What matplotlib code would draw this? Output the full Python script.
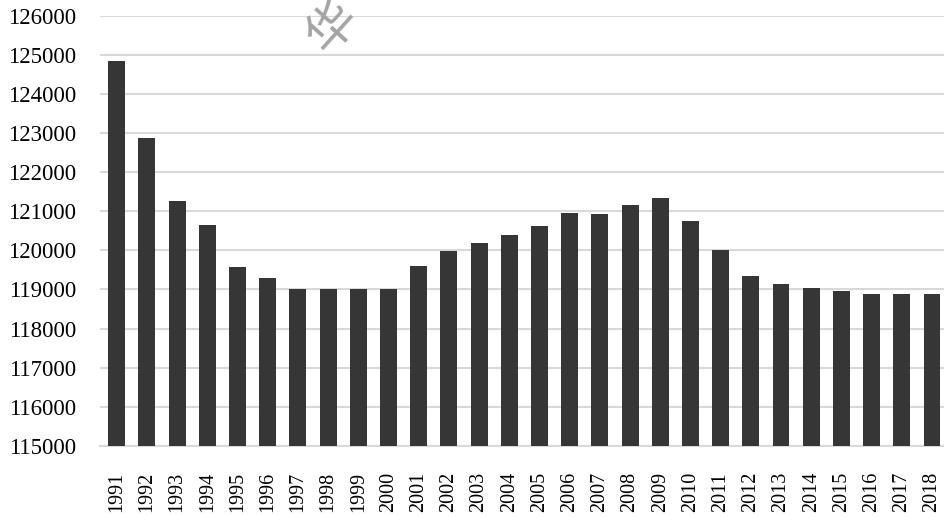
import matplotlib.pyplot as plt
import numpy as np

plt.rcParams['font.family'] = ['Liberation Serif', 'Noto Sans CJK SC', 'DejaVu Sans']

# 年份和数值
years = [str(y) for y in range(1991, 2019)]
values = [124850, 122890, 121265, 120660, 119570, 119300, 119000, 119000,
          119000, 119000, 119610, 119990, 120200, 120390, 120620, 120970,
          120930, 121150, 121350, 120750, 120000, 119350, 119150, 119040,
          118970, 118880, 118880, 118880]
yticks = list(range(115000, 126001, 1000))

fig = plt.figure(figsize=(9.45, 5.17), dpi=100)
ax = fig.add_axes([100/945, 0.1379, 1 - 100/945, 0.969 - 0.1379])

x = np.arange(len(years))
ax.bar(x, values, width=0.56, color='#363636', zorder=3)

ax.set_xlim(-0.553, 27.43)
ax.set_ylim(115000, 126000)
ax.set_yticks(yticks)
ax.set_yticklabels([str(v) for v in yticks], fontsize=16.5)
ax.set_xticks(x)
ax.set_xticklabels(years, rotation=90, fontsize=14.5)
ax.tick_params(axis='y', length=0, pad=17)
ax.tick_params(axis='x', length=0, pad=19)

# 网格线
ax.grid(axis='y', color='#d9d9d9', linewidth=1.5, zorder=0)
for s in ['top', 'right', 'left']:
    ax.spines[s].set_visible(False)
ax.spines['bottom'].set_color('#d9d9d9')
ax.spines['bottom'].set_linewidth(1.5)

# 水印
fig.text(333/945, 1 - 27/517, '华', fontsize=36, color='#9a9a9a',
         rotation=48, ha='center', va='center', alpha=0.9,
         family=['Noto Sans CJK SC'], fontweight='light', zorder=5)

fig.savefig('out.png', dpi=100)
